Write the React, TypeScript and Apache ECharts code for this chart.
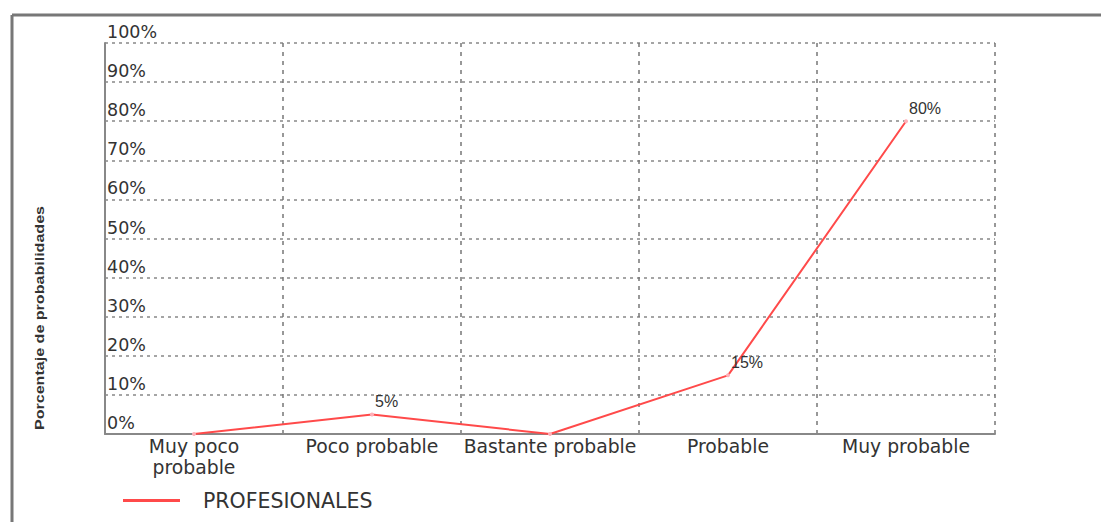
import React, { useEffect, useRef } from "react";
import * as echarts from "echarts";

const categories = ["Muy poco\nprobable", "Poco probable", "Bastante probable", "Probable", "Muy probable"];
const profesionales = [0, 5, 0, 15, 80];
const seriesName = "PROFESIONALES";
const yAxisTitle = "Porcentaje de probabilidades";

const FONT = "DejaVu Sans, Liberation Sans, Arial, sans-serif";

export default function App() {
  const ref = useRef<HTMLDivElement>(null);
  useEffect(() => {
    const chart = echarts.init(ref.current!, null, { renderer: "svg" });
    chart.setOption({
      animation: false,
      textStyle: { fontFamily: FONT },
      grid: { left: 105, right: 106, top: 43, bottom: 88 },
      graphic: [
        { type: "line", shape: { x1: 12, y1: 15, x2: 1101, y2: 15 }, style: { stroke: "#777", lineWidth: 3 } },
        { type: "line", shape: { x1: 12, y1: 15, x2: 12, y2: 522 }, style: { stroke: "#777", lineWidth: 3 } },
        {
          type: "text",
          x: 40,
          y: 318,
          rotation: Math.PI / 2,
          scaleX: 1.34,
          style: {
            text: yAxisTitle,
            fill: "#333",
            font: "bold 12px Liberation Sans, Arial, sans-serif",
            align: "center",
            verticalAlign: "middle",
          },
        },
      ],
      legend: {
        left: 118,
        top: 485,
        icon: "rect",
        itemWidth: 57,
        itemHeight: 3,
        textStyle: { fontSize: 20.5, color: "#333", fontFamily: FONT, padding: [0, 0, 0, 18] },
        data: [{ name: seriesName, itemStyle: { color: "#ff4a4a" } }],
      },
      xAxis: {
        type: "category",
        data: categories,
        boundaryGap: true,
        axisLine: { lineStyle: { color: "#888", width: 2 } },
        axisTick: { show: false },
        axisLabel: { color: "#333", fontSize: 18.8, fontFamily: FONT, margin: 2, lineHeight: 21, interval: 0 },
        splitLine: { show: true, lineStyle: { color: "#777", type: [4, 5], width: 1.5 } },
      },
      yAxis: {
        type: "value",
        min: 0,
        max: 100,
        interval: 10,
        axisLine: { show: true, lineStyle: { color: "#888", width: 2 } },
        axisTick: { show: false },
        axisLabel: {
          inside: true,
          margin: 2,
          formatter: "{value}%",
          color: "#333",
          fontSize: 17.5,
          fontFamily: FONT,
          verticalAlign: "bottom",
          lineHeight: 18,
          padding: [0, 0, 2, 0],
        },
        splitLine: { show: true, lineStyle: { color: "#888", type: [3, 4], width: 1.5 } },
      },
      series: [
        {
          name: seriesName,
          type: "line",
          data: profesionales,
          symbol: "circle",
          symbolSize: 4,
          itemStyle: { color: "#ffb0b8" },
          lineStyle: { color: "#ff4a4a", width: 2 },
          label: {
            show: true,
            position: "top",
            align: "left",
            offset: [3, 0],
            distance: 3,
            formatter: (p: any) => (p.value > 0 ? p.value + "%" : ""),
            color: "#333",
            fontSize: 16,
            fontFamily: "Liberation Sans, Arial, sans-serif",
          },
        },
      ],
    });
    return () => chart.dispose();
  }, []);
  return <div ref={ref} style={{ position: "fixed", left: 0, top: 0, width: 1101, height: 522, background: "#fff" }} />;
}
